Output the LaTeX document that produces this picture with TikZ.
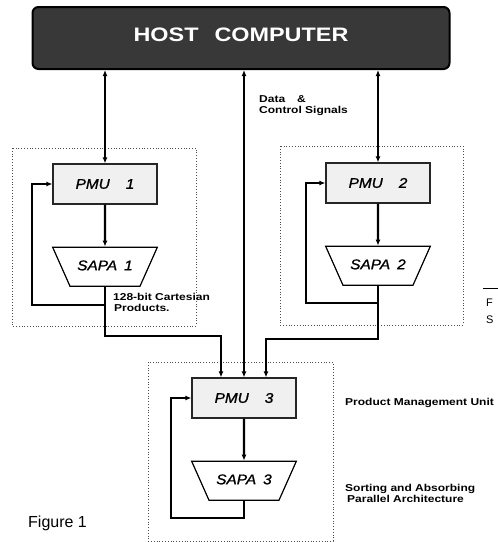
\documentclass[tikz,border=0pt]{standalone}
\usepackage{fontspec}
\setmainfont{Liberation Sans}
\newfontfamily\hostfont[FakeStretch=1.2]{Liberation Sans}
\newfontfamily\unitfont[FakeStretch=1.1,FakeBold=1.2]{Liberation Sans}
\newfontfamily\notefont[FakeStretch=1.2]{Liberation Sans}
\usetikzlibrary{positioning,shapes.geometric,arrows.meta}

\begin{document}
\begin{tikzpicture}[
  x=1pt, y=-1pt,
  host/.style={draw=black, line width=2pt, rounded corners=6pt, fill=black!78, text=white,
    minimum width=417pt, minimum height=62pt, inner sep=0pt,
    font=\hostfont\bfseries\fontsize{19.5}{20}\selectfont},
  box/.style={draw=black!85, line width=1.2pt, fill=black!6, minimum width=104pt, minimum height=40pt,
    inner sep=0pt, font=\unitfont\itshape\fontsize{14}{14}\selectfont},
  sapa/.style={draw=black, line width=1.2pt, fill=white, trapezium, shape border rotate=180,
    trapezium angle=66, text width=60pt, align=center, text height=10pt, text depth=3pt,
    inner xsep=5pt, inner ysep=13pt, font=\unitfont\itshape\fontsize{14}{14}\selectfont},
  link/.style={line width=2.2pt, black},
  arr/.style={link, -{Latex[length=6pt,width=5pt]}},
  biarr/.style={link, {Latex[length=6pt,width=5pt]}-{Latex[length=6pt,width=5pt]}},
  group/.style={draw=black!70, dotted, line width=0.8pt},
  note/.style={font=\notefont\bfseries\fontsize{10}{11.5}\selectfont, align=left, inner sep=0pt}
]
\useasboundingbox (0,0) rectangle (498,542);

% ---------------- host ----------------
\node[host] (host) at (241,38) {\raisebox{6pt}{HOST\hspace{16pt}COMPUTER}};

% ---------------- dotted groups ----------------
\draw[group] (12,148) rectangle (196,326);
\draw[group] (280,146) rectangle (463,325);
\draw[group] (148,362) rectangle (333,541);

% ---------------- units ----------------
\node[box] (pmu1) at (105,184) {PMU\hspace{16pt}1};
\node[sapa, below=42pt of pmu1] (sapa1) {SAPA\hspace{7pt}1};

\node[box] (pmu2) at (378,183) {PMU\hspace{16pt}2};
\node[sapa, below=42pt of pmu2] (sapa2) {SAPA\hspace{7pt}2};

\node[box] (pmu3) at (244,398) {PMU\hspace{16pt}3};
\node[sapa, below=42pt of pmu3] (sapa3) {SAPA\hspace{7pt}3};

% bends of the feedback and output lines
\coordinate (loop1) at (32,305);
\coordinate (loop2) at (306,303);
\coordinate (loop3) at (171,518);
\coordinate (bend1) at (221,336);
\coordinate (bend2) at (266,339);

% ---------------- arrows ----------------
\draw[biarr] (host.south -| pmu1.north) -- (pmu1.north);
\draw[biarr] (host.south -| pmu3.north) -- (pmu3.north);
\draw[biarr] (host.south -| pmu2.north) -- (pmu2.north);

\draw[arr] (pmu1) -- (sapa1);
\draw[arr] (sapa1.south) |- (loop1) |- (pmu1.west);
\draw[arr] (sapa1.south) |- (bend1) -- (bend1 |- pmu3.north);

\draw[arr] (pmu2) -- (sapa2);
\draw[arr] (sapa2.south) |- (loop2) |- (pmu2.west);
\draw[arr] (sapa2.south) |- (bend2) -- (bend2 |- pmu3.north);

\draw[arr] (pmu3) -- (sapa3);
\draw[arr] (sapa3.south) |- (loop3) |- (pmu3.west);

% ---------------- labels ----------------
\node[note, anchor=north west] (datalbl) at (259,95) {Data\hspace{12pt}\&\\Control Signals};
\node[note, anchor=north west] (cartlbl) at (113,293) {128-bit Cartesian\\\hspace{1pt}Products.};
\node[note, anchor=west] (pmulbl) at (345,403) {Product Management Unit};
\node[note, anchor=north west] (sapalbl) at (345,484) {Sorting and Absorbing\\\hspace{2pt}Parallel Architecture};
\node[anchor=west, inner sep=0pt, font=\fontsize{16}{16}\selectfont] (figlbl) at (28,523) {Figure 1};

% cut-off text at the right edge
\draw[line width=1pt] (483,288) -- (498,288);
\node[anchor=west, inner sep=0pt, font=\fontsize{11}{11}\selectfont] (fragf) at (486,303) {F};
\node[anchor=west, inner sep=0pt, font=\fontsize{11}{11}\selectfont] (frags) at (486,320) {S};

\end{tikzpicture}
\end{document}
